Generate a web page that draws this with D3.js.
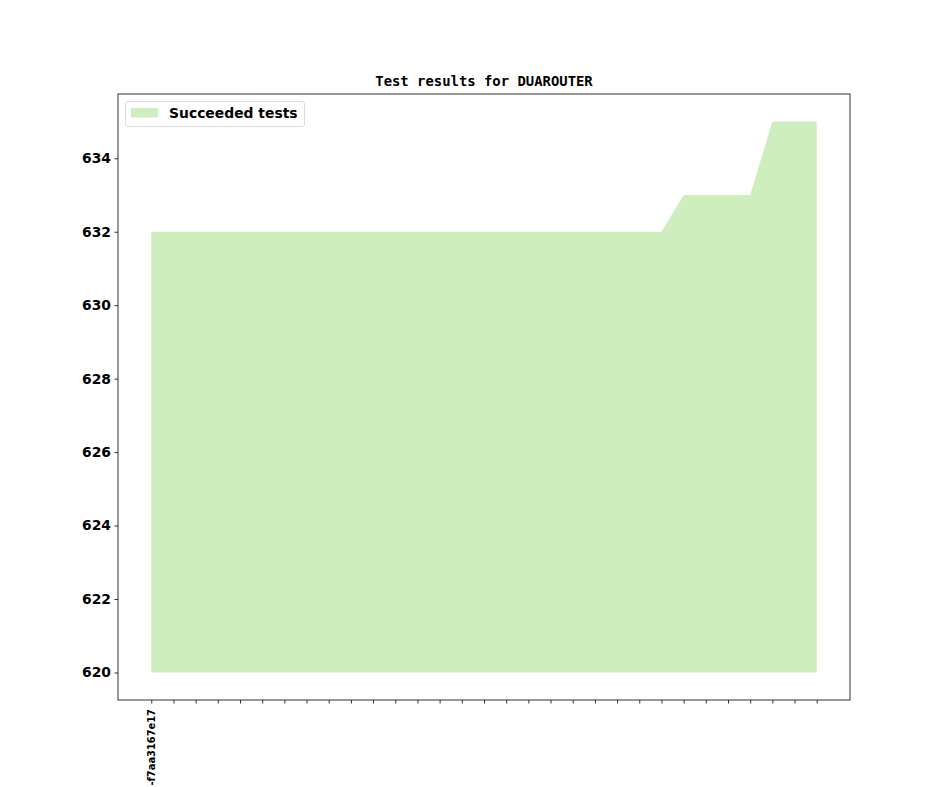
<!DOCTYPE html>
<html><head><meta charset="utf-8">
<script src="https://cdn.jsdelivr.net/npm/d3@7"></script>
<style>body{margin:0;background:#fff}</style>
</head><body>
<script>
const commits = ["-f7aa3167e17"].concat(Array(30).fill(""));
const succeeded = [632,632,632,632,632,632,632,632,632,632,632,632,632,632,632,632,632,632,632,632,632,632,632,632,633,633,633,633,635,635,635];
const yTicks = [620,622,624,626,628,630,632,634];
const baseline = 620;

const W=944,H=787;
const L=118,R=850,T=94,B=700;
const svg=d3.select("body").append("svg").attr("width",W).attr("height",H);
const n=succeeded.length;
const x=d3.scaleLinear().domain([-0.05*(n-1),(n-1)*1.05]).range([L,R]);
const ymin=baseline, ymax=d3.max(succeeded);
const pad=(ymax-ymin)*0.05;
const y=d3.scaleLinear().domain([ymin-pad,ymax+pad]).range([B,T]);

const area=d3.area().x((d,i)=>x(i)).y0(y(baseline)).y1(d=>y(d));
svg.append("path").datum(succeeded).attr("d",area).attr("fill","#cfeebd");

const yAxis=d3.axisLeft(y).tickValues(yTicks).tickSize(3.5).tickPadding(3.5);
const gy=svg.append("g").attr("transform",`translate(${L},0)`).call(yAxis);
gy.select(".domain").remove();
gy.selectAll("text").attr("font-family","DejaVu Sans").attr("font-weight","bold").attr("font-size","13.9px").attr("fill","#000");
gy.selectAll("line").attr("stroke","#000").attr("stroke-width",0.8);

const xAxis=d3.axisBottom(x).tickValues(d3.range(n)).tickFormat(i=>commits[i]).tickSize(3.5).tickPadding(3.5);
const gx=svg.append("g").attr("transform",`translate(0,${B})`).call(xAxis);
gx.select(".domain").remove();
gx.selectAll("line").attr("stroke","#000").attr("stroke-width",0.8);
gx.selectAll("text").attr("font-family","DejaVu Sans").attr("font-weight","bold").attr("font-size","9.9px").attr("fill","#000")
  .attr("transform","rotate(-90)").attr("text-anchor","end").attr("dy","0.35em").attr("y",0).attr("x",-9);

svg.append("rect").attr("x",L).attr("y",T).attr("width",R-L).attr("height",B-T).attr("fill","none").attr("stroke","#000").attr("stroke-width",0.8);

svg.append("text").attr("x",(L+R)/2).attr("y",T-8).attr("text-anchor","middle")
  .attr("font-family","DejaVu Sans Mono").attr("font-weight","bold").attr("font-size","13.9px").text("Test results for DUAROUTER");

const lg=svg.append("g");
lg.append("rect").attr("x",125.5).attr("y",101.5).attr("width",179).attr("height",25).attr("rx",2.5)
  .attr("fill","#fff").attr("fill-opacity",0.8).attr("stroke","#dcdcdc");
lg.append("rect").attr("x",131).attr("y",108).attr("width",27).attr("height",9.5).attr("fill","#cfeebd");
lg.append("text").attr("x",169).attr("y",118).attr("font-family","DejaVu Sans").attr("font-weight","bold").attr("font-size","13.9px").text("Succeeded tests");
</script>
</body></html>
